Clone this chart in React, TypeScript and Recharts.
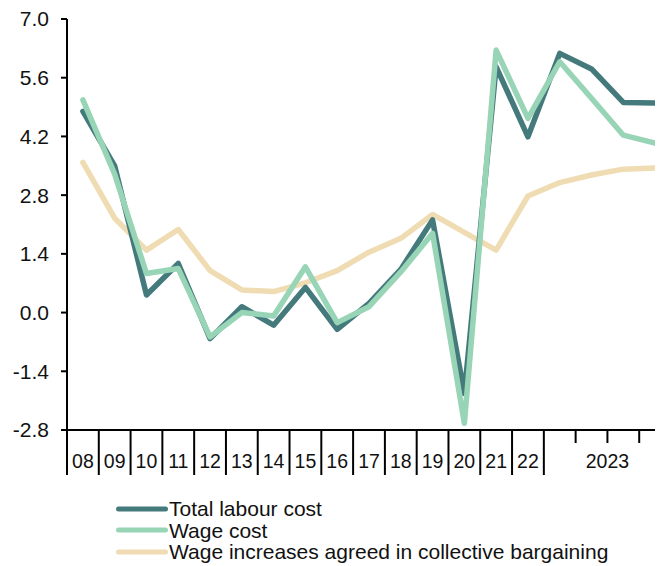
import React from "react";
import { LineChart, Line, XAxis, YAxis } from "recharts";

const categories = [
  "08", "09", "10", "11", "12", "13", "14", "15", "16", "17", "18", "19", "20", "21", "22",
  "2023Q1", "2023Q2", "2023Q3", "2023Q4",
];
// label under each slot; the quarter group gets one "2023" label
const tickLabels = [
  "08", "09", "10", "11", "12", "13", "14", "15", "16", "17", "18", "19", "20", "21", "22",
  "", "", "2023", "",
];
const yTicks = [-2.8, -1.4, 0, 1.4, 2.8, 4.2, 5.6, 7.0];

const totalLabourCost = [4.8, 3.5, 0.42, 1.17, -0.62, 0.14, -0.3, 0.6, -0.4, 0.22, 1.03, 2.21, -1.93, 5.86, 4.19, 6.18, 5.81, 5.01, 5.0];
const wageCost = [5.07, 3.3, 0.93, 1.05, -0.58, 0.0, -0.08, 1.09, -0.24, 0.14, 0.97, 1.89, -2.64, 6.26, 4.63, 5.98, 5.11, 4.23, 4.04];
const collectiveBargaining = [3.58, 2.25, 1.49, 1.98, 1.0, 0.54, 0.5, 0.71, 1.0, 1.44, 1.77, 2.34, 1.91, 1.49, 2.78, 3.1, 3.28, 3.42, 3.45];

const data = categories.map((cat, i) => ({
  cat,
  total: totalLabourCost[i],
  wage: wageCost[i],
  agreed: collectiveBargaining[i],
}));

const DARK = "#457a7d";
const GREEN = "#98d4b6";
const BEIGE = "#efdcb3";
const FONT = "'Liberation Sans', Arial, sans-serif";

const CHART_W = 680;
const CHART_H = 480;
const MARGIN = { top: 11, right: 17, left: 0, bottom: 0 };
const Y_W = 59;
const X_H = 58;
const BAND = (CHART_W - MARGIN.left - MARGIN.right - Y_W) / categories.length;

function CategoryTick(props: any) {
  const { x, y, payload } = props;
  const i = categories.indexOf(payload.value);
  const left = x - BAND / 2;
  const isQuarter = categories[i].includes("Q");
  const longDivider = !isQuarter || categories[i].endsWith("Q1");
  const label = tickLabels[i];
  return (
    <g>
      {i === 0 && <line x1={left - 6} x2={left} y1={y} y2={y} stroke="#000" strokeWidth={2} />}
      <line x1={left} x2={left} y1={y} y2={y + (longDivider ? 45 : 13)} stroke="#000" strokeWidth={2} />
      {label && (
        <text
          x={isQuarter ? left : x}
          y={y + 38}
          textAnchor="middle"
          fontSize={19.5}
          fontFamily={FONT}
          fill="#111"
        >
          {label}
        </text>
      )}
    </g>
  );
}

const legendItems = [
  { name: "Total labour cost", color: DARK },
  { name: "Wage cost", color: GREEN },
  { name: "Wage increases agreed in collective bargaining", color: BEIGE },
];

export default function App() {
  return (
    <div style={{ position: "relative", width: 655, height: 558, overflow: "hidden", fontFamily: FONT }}>
      <LineChart width={CHART_W} height={CHART_H} data={data} margin={MARGIN}>
        <XAxis
          dataKey="cat"
          scale="band"
          interval={0}
          height={X_H}
          tickSize={0}
          tickMargin={0}
          axisLine={{ stroke: "#000", strokeWidth: 2 }}
          tick={(p: any) => <CategoryTick {...p} />}
        />
        <YAxis
          type="number"
          domain={[-2.8, 7]}
          ticks={yTicks}
          width={Y_W}
          interval={0}
          tickSize={6}
          tickMargin={12}
          tickFormatter={(v: number) => v.toFixed(1)}
          axisLine={{ stroke: "#000", strokeWidth: 2 }}
          tickLine={{ stroke: "#000", strokeWidth: 2 }}
          tick={{ fontSize: 21, fill: "#111", fontFamily: FONT }}
        />
        <Line dataKey="agreed" stroke={BEIGE} strokeWidth={5.5} dot={false} strokeLinejoin="round" strokeLinecap="round" isAnimationActive={false} />
        <Line dataKey="total" stroke={DARK} strokeWidth={5.5} dot={false} strokeLinejoin="round" strokeLinecap="round" isAnimationActive={false} />
        <Line dataKey="wage" stroke={GREEN} strokeWidth={5.5} dot={false} strokeLinejoin="round" strokeLinecap="round" isAnimationActive={false} />
      </LineChart>
      <div style={{ position: "absolute", left: 108, top: 490, fontSize: 21, lineHeight: "21.5px", color: "#111" }}>
        {legendItems.map((item) => (
          <div key={item.name} style={{ display: "flex", alignItems: "center", whiteSpace: "nowrap" }}>
            <svg width={52} height={8} style={{ marginRight: 1 }}>
              <line x1={2.5} x2={49.5} y1={4} y2={4} stroke={item.color} strokeWidth={5} strokeLinecap="round" />
            </svg>
            <span>{item.name}</span>
          </div>
        ))}
      </div>
    </div>
  );
}
